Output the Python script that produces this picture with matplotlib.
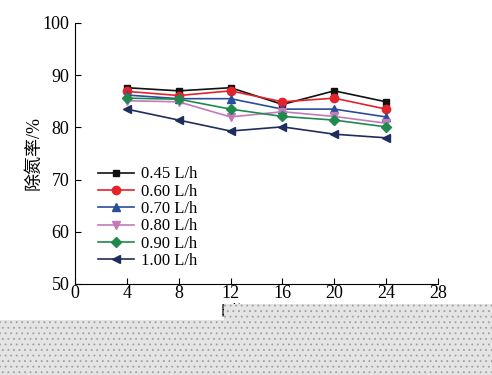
import matplotlib
matplotlib.use("Agg")

import matplotlib.pyplot as plt
from matplotlib.patches import Rectangle

# removal rate (%) vs time (d) for different aeration rates
days = [4, 8, 12, 16, 20, 24]
labels = ["0.45 L/h", "0.60 L/h", "0.70 L/h", "0.80 L/h", "0.90 L/h", "1.00 L/h"]
rate_045 = [87.6, 87.0, 87.6, 84.4, 87.0, 84.9]
rate_060 = [86.9, 86.1, 87.0, 84.9, 85.6, 83.5]
rate_070 = [86.2, 85.5, 85.5, 83.5, 83.5, 82.0]
rate_080 = [85.1, 84.9, 82.0, 83.0, 82.1, 80.8]
rate_090 = [85.6, 85.4, 83.5, 82.1, 81.4, 80.1]
rate_100 = [83.5, 81.4, 79.3, 80.1, 78.7, 78.0]

series = [rate_045, rate_060, rate_070, rate_080, rate_090, rate_100]
colors = ["#111111", "#e3232a", "#2a4d9c", "#c27ab9", "#1f8a4c", "#1f2d5c"]
markers = ["s", "o", "^", "v", "D", "<"]
msizes = [5, 6, 6, 6, 5, 6]

plt.rcParams["font.family"] = ["Liberation Serif", "Noto Sans CJK SC"]
plt.rcParams["hatch.linewidth"] = 0.6

fig = plt.figure(figsize=(4.92, 3.75), dpi=100)
ax = fig.add_axes([0.1524, 0.2427, 0.7378, 0.696])

for vals, lab, c, m, ms in zip(series, labels, colors, markers, msizes):
    ax.plot(days, vals, color=c, marker=m, markersize=ms, linewidth=1.2, label=lab)

ax.set_xlim(0, 28)
ax.set_ylim(50, 100)
ax.set_xticks(range(0, 29, 4))
ax.set_yticks(range(50, 101, 10))
ax.tick_params(direction="in", labelsize=13, length=4, pad=4)
ax.tick_params(axis="x", pad=1)
for s in ["top", "right"]:
    ax.spines[s].set_visible(False)
ax.set_ylabel("除氮率/%", fontsize=13, labelpad=0)

ax.legend(loc="upper left", bbox_to_anchor=(0.03, 0.495), frameon=False,
          fontsize=12, handlelength=2.2, handletextpad=0.4, labelspacing=0.08,
          borderaxespad=0.3)

# x label, mostly hidden by the dotted overlay in the reference
fig.text(221 / 492, 1 - 305 / 375, "时间/d", fontsize=12, ha="left", va="top")

# dotted grey overlay at the bottom
for x0, y0, w, h in [(224, 304, 268, 16), (0, 320, 492, 55)]:
    fig.add_artist(Rectangle((x0 / 492, 1 - (y0 + h) / 375), w / 492, h / 375,
                             transform=fig.transFigure, facecolor="#e4e4e4",
                             edgecolor="#a0a0a0", hatch="...", linewidth=0,
                             zorder=10))

fig.savefig("out.png", dpi=100)
